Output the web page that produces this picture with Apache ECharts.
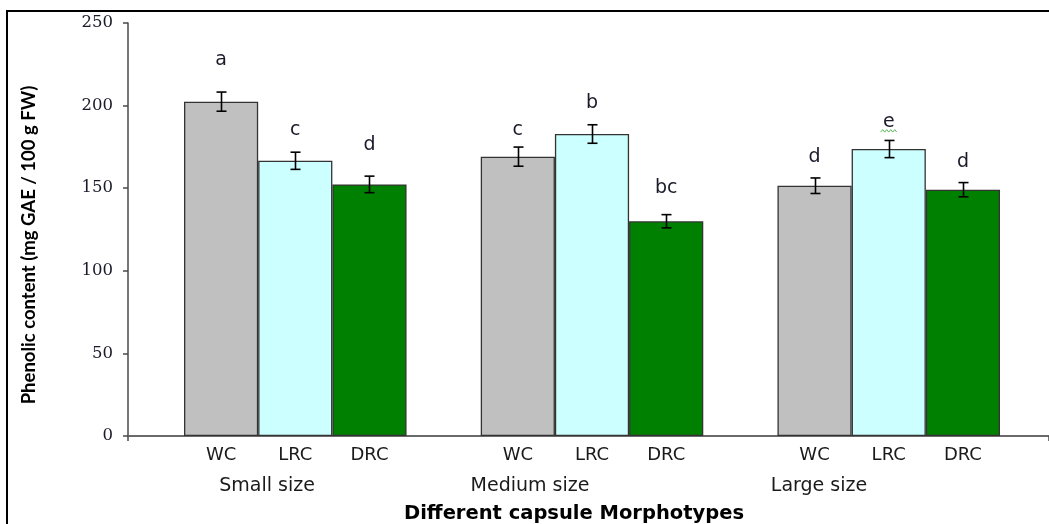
<!DOCTYPE html>
<html><head><meta charset="utf-8">
<script src="https://cdn.jsdelivr.net/npm/echarts@6/dist/echarts.min.js"></script>
<style>
html,body{margin:0;padding:0;background:#fff;overflow:hidden}
#c{position:absolute;left:0;top:0;width:1049px;height:524px}
#frame{position:absolute;left:6px;top:10px;width:1200px;height:700px;border-top:2px solid #000;border-left:2px solid #000;pointer-events:none}
</style></head><body>
<div id="c"></div><div id="frame"></div>
<script>
// ---- data ----
const groups = ['Small size', 'Medium size', 'Large size'];
const types = ['WC', 'LRC', 'DRC'];
const wcValues  = [202.4, 169.1, 151.5];
const lrcValues = [166.6, 182.8, 173.7];
const drcValues = [152.3, 130.0, 149.1];
const wcErr  = [5.8, 5.8, 4.7];
const lrcErr = [5.2, 5.6, 5.2];
const drcErr = [5.0, 4.0, 4.3];
const wcLetters  = ['a', 'c', 'd'];
const lrcLetters = ['c', 'b', 'e'];
const drcLetters = ['d', 'bc', 'd'];
const wcLetterY  = [227.6, 185.2, 169.1];
const lrcLetterY = [185.2, 201.8, 190.3];
const drcLetterY = [176.1, 150.1, 166.0];
const yMin = 0, yMax = 250, yStep = 50;
const yName = 'Phenolic content (mg GAE / 100 g FW)';
const xName = 'Different capsule Morphotypes';

// ---- build the category slots ----
const values = [wcValues, lrcValues, drcValues];
const errs = [wcErr, lrcErr, drcErr];
const letters = [wcLetters, lrcLetters, drcLetters];
const letterY = [wcLetterY, lrcLetterY, drcLetterY];
const slots = [];
groups.forEach((g, gi) => {
  types.forEach(t => slots.push(t));
  if (gi < groups.length - 1) slots.push('');
});
const slotOf = (gi, ti) => gi * (types.length + 1) + ti;
const colors = ['#c0c0c0', '#ccffff', '#008000'];

const barSeries = types.map((t, ti) => ({
  name: t, type: 'bar', xAxisIndex: 0, yAxisIndex: 0,
  barWidth: '100%', barGap: '-100%',
  data: slots.map((s, si) => {
    const gi = groups.findIndex((g, k) => slotOf(k, ti) === si);
    return gi >= 0 ? values[ti][gi] : '-';
  }),
  itemStyle: { color: colors[ti], borderColor: '#333333', borderWidth: 1.3 },
  silent: true
}));

const errData = [], letterData = [];
groups.forEach((g, gi) => types.forEach((t, ti) => {
  const v = values[ti][gi], e = errs[ti][gi];
  errData.push([slotOf(gi, ti), v - e, v + e]);
  letterData.push([slotOf(gi, ti), letterY[ti][gi], letters[ti][gi]]);
}));

const chart = echarts.init(document.getElementById('c'), null, { renderer: 'canvas' });
chart.setOption({
  animation: false,
  backgroundColor: '#fff',
  grid: [
    { left: 184, right: 49, top: 23, bottom: 88 },
    { left: 128, right: 0, top: 23, bottom: 88 }
  ],
  xAxis: [
    { type: 'category', gridIndex: 0, data: slots,
      axisLine: { show: false }, axisTick: { show: false },
      axisLabel: { interval: 0, margin: 10, color: '#1a1a1a', fontFamily: 'DejaVu Sans', fontSize: 18 } },
    { type: 'value', gridIndex: 1, min: 0, max: 1, interval: 1,
      axisLine: { show: true, lineStyle: { color: '#6a6a6a', width: 2 } },
      axisTick: { show: true, length: 5, lineStyle: { color: '#4a4a4a', width: 1.5 } },
      axisLabel: { show: false }, splitLine: { show: false } }
  ],
  yAxis: [
    { type: 'value', gridIndex: 0, min: yMin, max: yMax, interval: yStep, offset: 56,
      axisLine: { show: true, lineStyle: { color: '#4a4a4a', width: 1.5 } },
      axisTick: { show: true, length: 5, lineStyle: { color: '#4a4a4a', width: 1.5 } },
      axisLabel: { margin: 15, color: '#1a1a2a', fontFamily: 'DejaVu Serif', fontSize: 16.5 },
      splitLine: { show: false } },
    { type: 'value', gridIndex: 1, show: false, min: 0, max: 1 }
  ],
  series: [
    ...barSeries,
    { type: 'custom', xAxisIndex: 0, yAxisIndex: 0, z: 5, silent: true,
      data: errData, encode: { x: 0, y: [1, 2] },
      renderItem(params, api) {
        const i = api.value(0);
        const lo = api.coord([i, api.value(1)]);
        const hi = api.coord([i, api.value(2)]);
        const x = Math.round(lo[0]) + 0.5, w = 5;
        const st = { stroke: '#000', lineWidth: 1.6 };
        return { type: 'group', children: [
          { type: 'line', shape: { x1: x, y1: lo[1], x2: x, y2: hi[1] }, style: st },
          { type: 'line', shape: { x1: x - w, y1: hi[1], x2: x + w, y2: hi[1] }, style: st },
          { type: 'line', shape: { x1: x - w, y1: lo[1], x2: x + w, y2: lo[1] }, style: st }
        ] };
      } },
    { type: 'custom', xAxisIndex: 0, yAxisIndex: 0, z: 6, silent: true,
      data: letterData, encode: { x: 0, y: 1 },
      renderItem(params, api) {
        const p = api.coord([api.value(0), api.value(1)]);
        const txt = letterData[params.dataIndex][2];
        const children = [{ type: 'text', style: { text: txt, x: p[0], y: p[1],
          align: 'center', verticalAlign: 'middle', fill: '#1a1a2a',
          font: '19px "DejaVu Sans"' } }];
        if (txt === 'e') {
          const pts = [];
          for (let k = 0; k <= 8; k++) pts.push([p[0] - 8 + k * 2, p[1] + (k % 2 ? 8 : 10.5)]);
          children.push({ type: 'polyline', shape: { points: pts }, style: { stroke: '#5cb85c', lineWidth: 1, fill: null } });
        }
        return { type: 'group', children };
      } }
  ],
  graphic: [
    ...groups.map((g, gi) => ({ type: 'text', silent: true,
      x: [267, 530, 819][gi], y: 486,
      style: { text: g, align: 'center', verticalAlign: 'middle', fill: '#1a1a1a', font: '19px "DejaVu Sans"' } })),
    { type: 'text', silent: true, x: 574, y: 514,
      style: { text: xName, align: 'center', verticalAlign: 'middle', fill: '#000', font: 'bold 19.5px "DejaVu Sans"' } },
    { type: 'text', silent: true, x: 29, y: 245, rotation: Math.PI / 2,
      style: { text: yName, align: 'center', verticalAlign: 'middle', fill: '#000', font: 'bold 18.5px Lato' } }
  ]
});
</script>
</body></html>
